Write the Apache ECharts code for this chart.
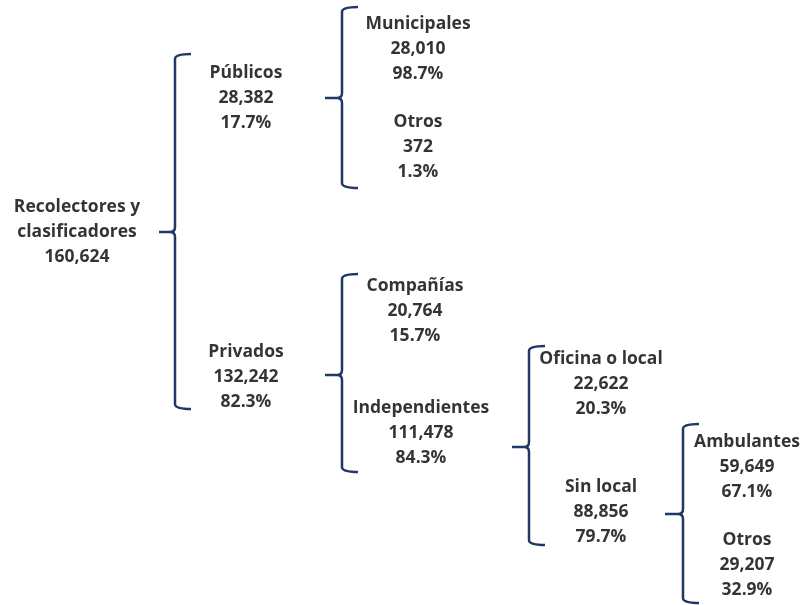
<!DOCTYPE html>
<html>
<head>
<meta charset="utf-8">
<script src="https://cdn.jsdelivr.net/npm/echarts@6/dist/echarts.min.js"></script>
<style>
  html, body { margin: 0; padding: 0; background: #fff; }
  #chart { width: 802px; height: 605px; }
</style>
</head>
<body>
<div id="chart"></div>
<script>
// datos del diagrama
var names = ['Recolectores y\nclasificadores', 'Públicos', 'Privados', 'Municipales', 'Otros',
  'Compañías', 'Independientes', 'Oficina o local', 'Sin local', 'Ambulantes', 'Otros'];
var values = [160624, 28382, 132242, 28010, 372, 20764, 111478, 22622, 88856, 59649, 29207];
var shares = [null, 17.7, 82.3, 98.7, 1.3, 15.7, 84.3, 20.3, 79.7, 67.1, 32.9];
// nodos que se abren en llave
var branchNodes = [0, 1, 2, 6, 8];

// posiciones (coordenadas del lienzo) separadas de los datos
var nodeX = [77, 246, 246, 418, 418, 415, 421, 601, 601, 747, 747];
var nodeY = [232, 98, 377, 49, 147, 311, 433, 384, 512, 467, 565];
// llaves: x, arriba, abajo, medio, punta
var braceX = [175, 342, 342, 529, 683];
var braceTop = [54, 7, 274, 346, 424];
var braceBottom = [409, 188, 472, 545, 603];
var braceMid = [232, 98, 375, 447, 514];
var braceTip = [159, 325, 325, 512, 665];

var lineColor = '#1f3864';

function fmt(n) {
  return n.toLocaleString('en-US');
}

var labelData = names.map(function (n, i) {
  var txt = n + '\n' + fmt(values[i]);
  if (shares[i] !== null) txt += '\n' + shares[i].toFixed(1) + '%';
  return { value: [nodeX[i], nodeY[i]], name: txt };
});

var braceData = branchNodes.map(function (node, i) {
  return [braceX[i], braceTop[i], braceBottom[i], braceMid[i], braceTip[i]];
});

function renderBrace(params, api) {
  var p = api.coord([api.value(0), api.value(1)]);
  var x = p[0], top = p[1];
  var bot = api.coord([0, api.value(2)])[1];
  var mid = api.coord([0, api.value(3)])[1];
  var tip = api.coord([api.value(4), 0])[0];
  var hk = 16, r = 5;
  var d = 'M' + (x + hk) + ' ' + top +
    ' Q' + x + ' ' + top + ' ' + x + ' ' + (top + r) +
    ' L' + x + ' ' + (mid - r) +
    ' Q' + x + ' ' + mid + ' ' + (x - r) + ' ' + mid +
    ' L' + tip + ' ' + mid +
    ' M' + (x - r) + ' ' + mid +
    ' Q' + x + ' ' + mid + ' ' + x + ' ' + (mid + r) +
    ' L' + x + ' ' + (bot - r) +
    ' Q' + x + ' ' + bot + ' ' + (x + hk) + ' ' + bot;
  return {
    type: 'path',
    shape: { pathData: d },
    style: { fill: null, stroke: lineColor, lineWidth: 2.5 }
  };
}

var chart = echarts.init(document.getElementById('chart'));
chart.setOption({
  backgroundColor: '#fff',
  animation: false,
  grid: { left: 0, right: 0, top: 0, bottom: 0 },
  xAxis: { type: 'value', min: 0, max: 802, show: false },
  yAxis: { type: 'value', min: 0, max: 605, inverse: true, show: false },
  series: [
    {
      type: 'custom',
      renderItem: renderBrace,
      data: braceData,
      silent: true
    },
    {
      type: 'scatter',
      symbolSize: 1,
      itemStyle: { color: 'rgba(0,0,0,0)' },
      data: labelData,
      silent: true,
      label: {
        show: true,
        position: 'inside',
        formatter: '{b}',
        fontFamily: 'Open Sans',
        fontWeight: 'bold',
        fontSize: 17.5,
        lineHeight: 25,
        align: 'center',
        verticalAlign: 'middle',
        color: '#000'
      },
      labelLayout: { hideOverlap: false }
    }
  ]
});
</script>
</body>
</html>
